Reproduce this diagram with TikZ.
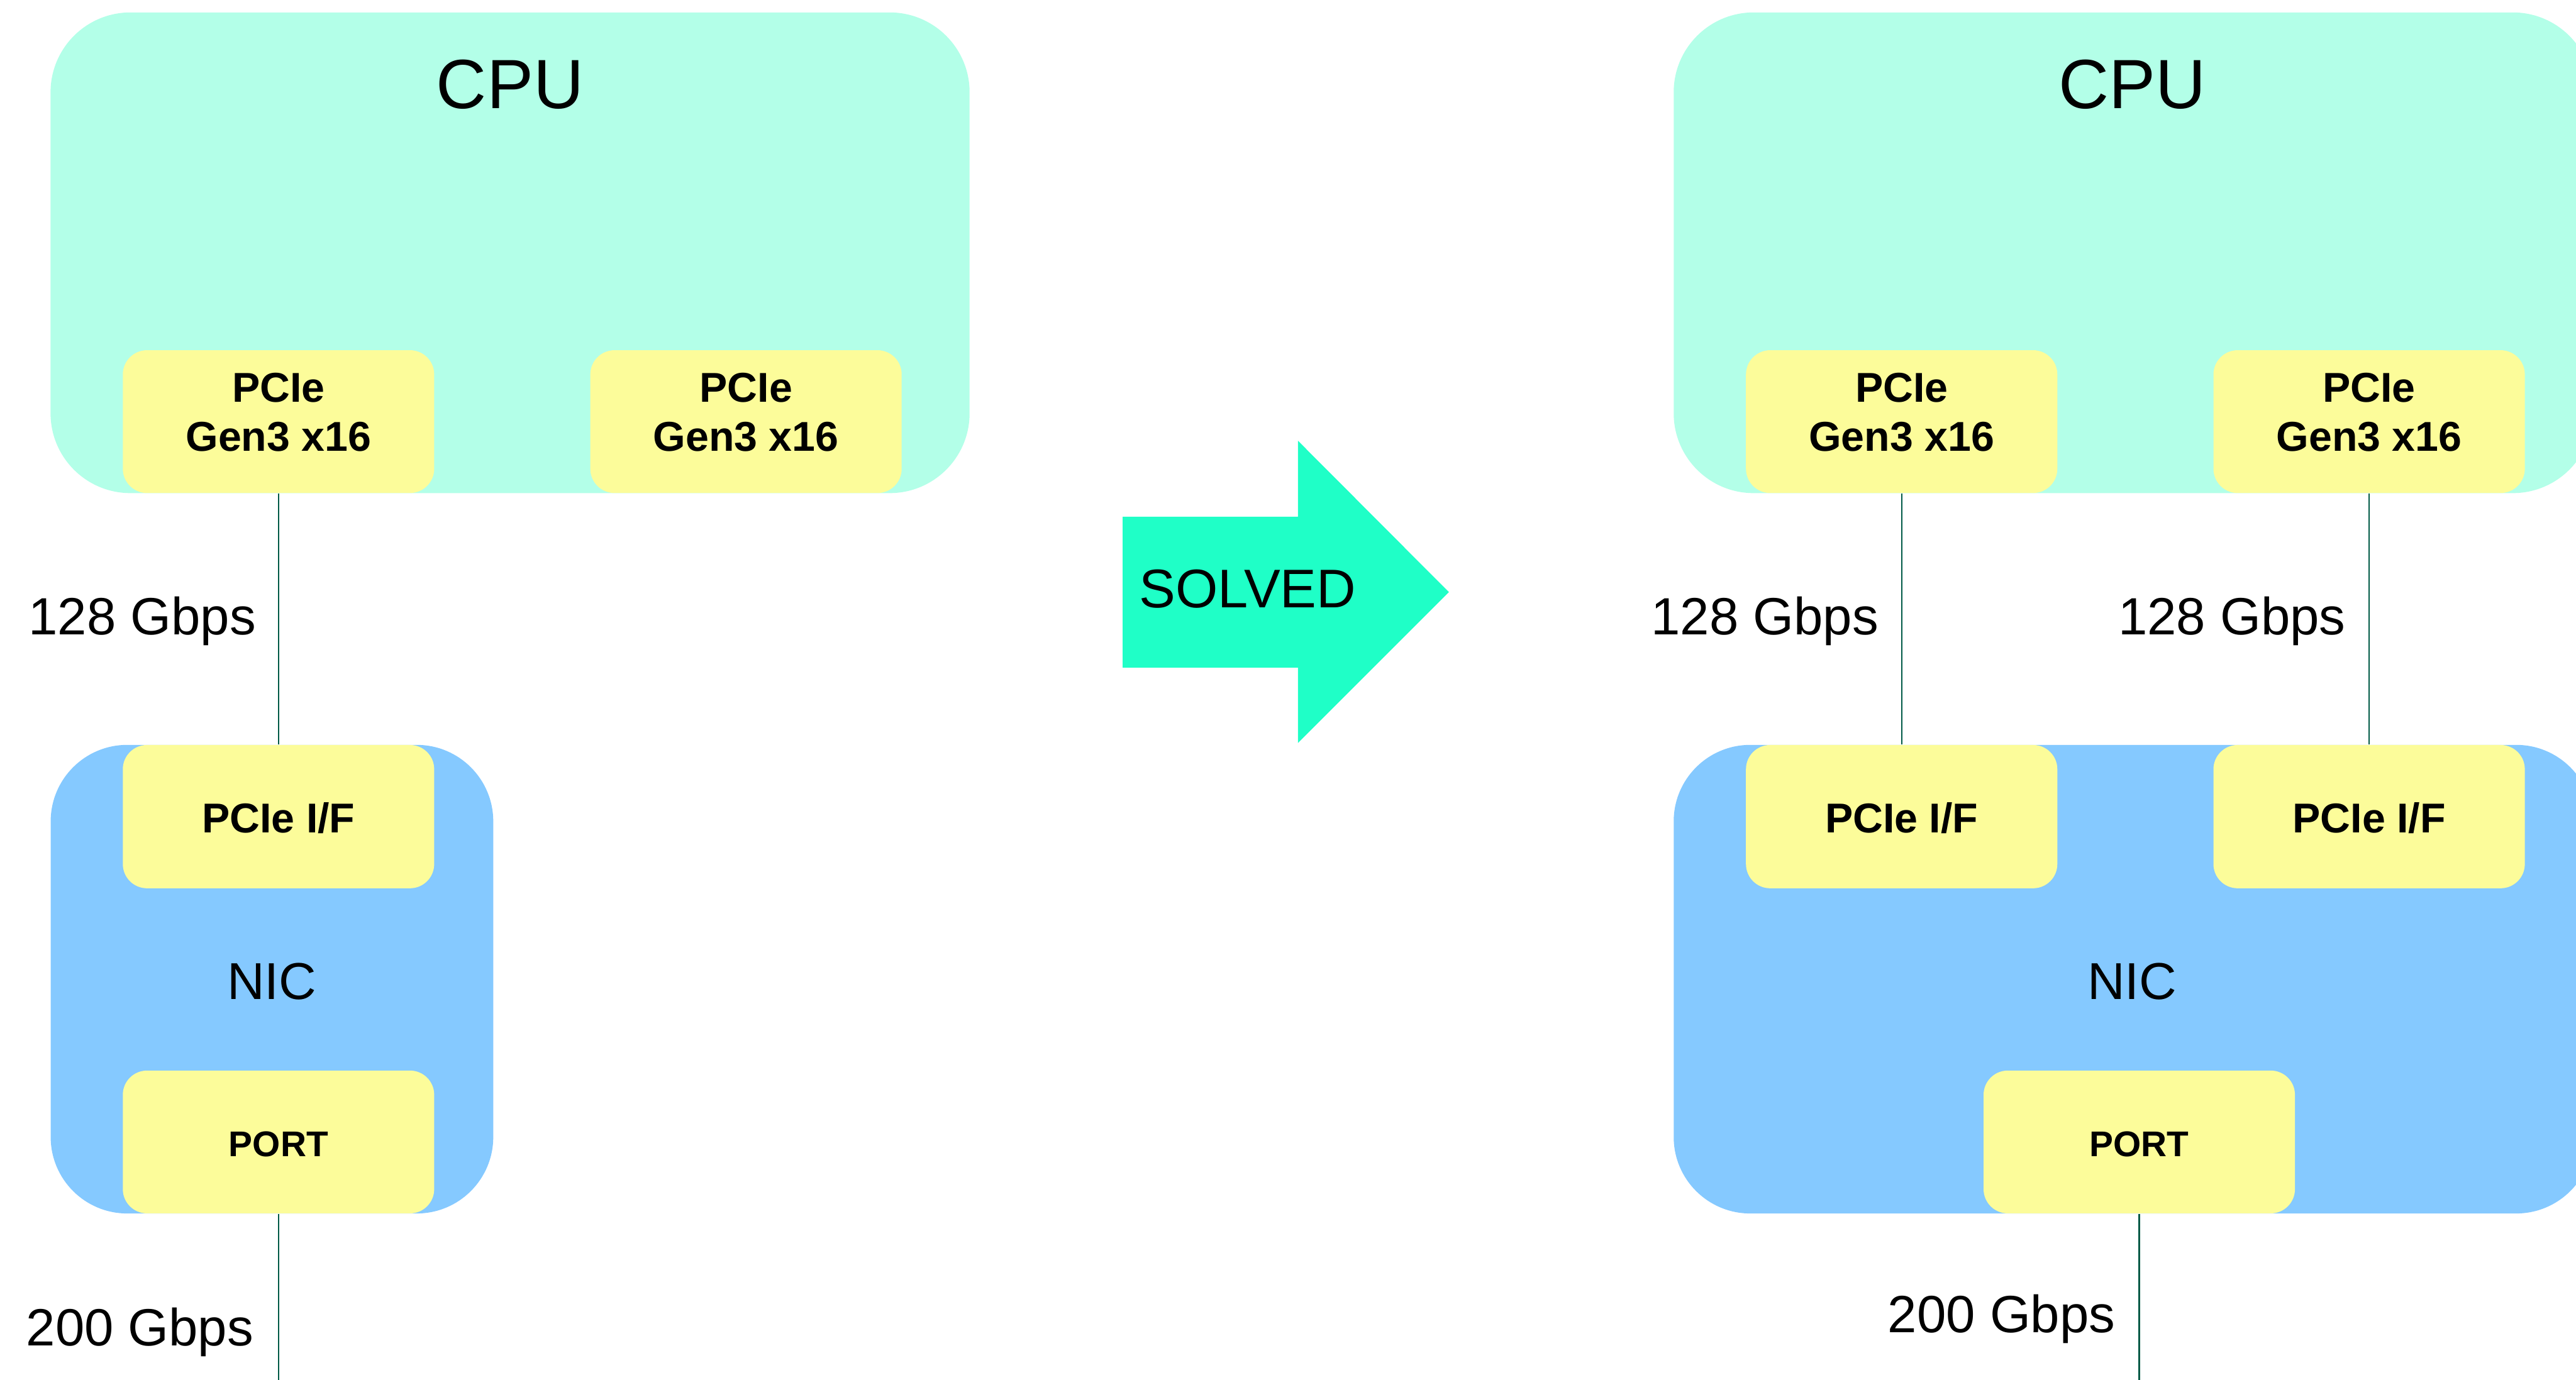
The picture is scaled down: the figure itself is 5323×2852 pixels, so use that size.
\documentclass[tikz,border=0pt]{standalone}
\usepackage{fontspec}
\setmainfont{Liberation Sans}
\definecolor{cpufill}{RGB}{179,255,232}
\definecolor{unitfill}{RGB}{252,252,154}
\definecolor{nicfill}{RGB}{133,201,255}
\definecolor{arrowfill}{RGB}{31,255,199}
\definecolor{linkcol}{RGB}{0,90,70}
\begin{document}
\begin{tikzpicture}[x=0.01cm, y=-0.01cm,
  cpubox/.style={fill=cpufill, rounded corners=1.65cm, inner sep=0pt,
    minimum width=18.98cm, minimum height=9.93cm},
  nicbox/.style={fill=nicfill, rounded corners=1.58cm, inner sep=0pt,
    minimum height=9.68cm},
  unitbox/.style={fill=unitfill, rounded corners=0.5cm, inner sep=0pt,
    minimum width=6.43cm, minimum height=2.95cm},
  link/.style={draw=linkcol, line width=0.85pt},
  bigtxt/.style={anchor=base, inner sep=0pt, font=\fontsize{41}{49}\selectfont},
  midtxt/.style={anchor=base, inner sep=0pt, font=\fontsize{30.5}{36}\selectfont},
  ratetxt/.style={anchor=base, inner sep=0pt, font=\fontsize{30.8}{36}\selectfont},
  unittxt/.style={anchor=base, inner sep=0pt, font=\fontsize{24.5}{29}\selectfont\bfseries},
  porttxt/.style={anchor=base, inner sep=0pt, font=\fontsize{21}{25}\selectfont\bfseries}]
\useasboundingbox (0,0) rectangle (5323,2852);

% ---------- left: one PCIe link ----------
\node[cpubox] (cpuL) at (1054,522.5) {};
\node[unitbox] (pcieL1) at (575.5,871.5) {};
\node[unitbox] (pcieL2) at (1541.5,871.5) {};
\node[bigtxt] (cpuLt) at (1054,224) {CPU};
\node[unittxt] (pcieL1a) at (575.5,831) {PCIe};
\node[unittxt] (pcieL1b) at (575.5,933) {Gen3 x16};
\node[unittxt] (pcieL2a) at (1541.5,831) {PCIe};
\node[unittxt] (pcieL2b) at (1541.5,933) {Gen3 x16};

\node[nicbox, minimum width=9.14cm] (nicL) at (562,2024) {};
\node[unitbox, minimum height=2.96cm] (ifL) at (575.5,1688) {};
\node[unitbox] (portL) at (575.5,2360.5) {};
\node[midtxt] (nicLt) at (562,2065) {NIC};
\node[unittxt] (ifLt) at (575.5,1721) {PCIe I/F};
\node[porttxt] (portLt) at (575.5,2390) {PORT};

\draw[link] (pcieL1.south) -- (ifL.north);
\coordinate (outL) at (575.5,2852);
\draw[link] (portL.south) -- (outL);
\node[ratetxt] (rateL1) at (294,1312) {128 Gbps};
\node[ratetxt] (rateL2) at (289,2782) {200 Gbps};

% ---------- middle arrow ----------
\fill[arrowfill] (2320,1068) -- (2682,1068) -- (2682,911) -- (2994,1224)
  -- (2682,1536) -- (2682,1380) -- (2320,1380) -- cycle;
\node[anchor=base, inner sep=0pt, font=\fontsize{32}{38}\selectfont] (solved) at (2578,1256) {SOLVED};

% ---------- right: two PCIe links ----------
\node[cpubox] (cpuR) at (4408,522.5) {};
\node[unitbox] (pcieR1) at (3929.5,871.5) {};
\node[unitbox] (pcieR2) at (4895.5,871.5) {};
\node[bigtxt] (cpuRt) at (4406,224) {CPU};
\node[unittxt] (pcieR1a) at (3929.5,831) {PCIe};
\node[unittxt] (pcieR1b) at (3929.5,933) {Gen3 x16};
\node[unittxt] (pcieR2a) at (4895.5,831) {PCIe};
\node[unittxt] (pcieR2b) at (4895.5,933) {Gen3 x16};

\node[nicbox, minimum width=18.98cm] (nicR) at (4408,2024) {};
\node[unitbox, minimum height=2.96cm] (ifR1) at (3929.5,1688) {};
\node[unitbox, minimum height=2.96cm] (ifR2) at (4895.5,1688) {};
\node[unitbox] (portR) at (4420.5,2360.5) {};
\node[midtxt] (nicRt) at (4406,2065) {NIC};
\node[unittxt] (ifR1t) at (3929.5,1721) {PCIe I/F};
\node[unittxt] (ifR2t) at (4895.5,1721) {PCIe I/F};
\node[porttxt] (portRt) at (4420.5,2390) {PORT};

\draw[link] (pcieR1.south) -- (ifR1.north);
\draw[link] (pcieR2.south) -- (ifR2.north);
\coordinate (outR) at (4420.5,2852);
\draw[link] (portR.south) -- (outR);
\node[ratetxt] (rateR1) at (3647,1312) {128 Gbps};
\node[ratetxt] (rateR2) at (4612,1312) {128 Gbps};
\node[ratetxt] (rateR3) at (4136,2755) {200 Gbps};
\end{tikzpicture}
\end{document}
